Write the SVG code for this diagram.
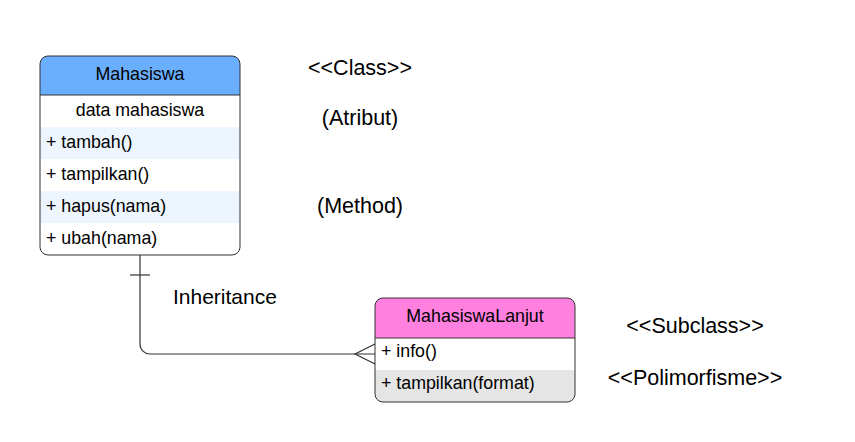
<svg xmlns="http://www.w3.org/2000/svg" width="855" height="442" viewBox="0 0 855 442">
<style>
text{font-family:"Liberation Sans",Arial,sans-serif;fill:#000}
.t{font-size:17.8px}
.c{text-anchor:middle}
.lab{font-size:21.5px;text-anchor:middle}
.box{fill:none;stroke:#333;stroke-width:1}
.con{fill:none;stroke:#333;stroke-width:1.2}
</style>
<rect width="855" height="442" fill="#fff"/>
<g id="Mahasiswa">
<path d="M40,95 V64 a8,8 0 0 1 8,-8 H232 a8,8 0 0 1 8,8 V95 Z" fill="#6aaefe"/>
<rect x="40" y="127" width="200" height="32" fill="#edf5ff"/>
<rect x="40" y="191" width="200" height="32" fill="#edf5ff"/>
<rect x="40" y="56" width="200" height="199" rx="8" class="box"/>
<line x1="40" y1="95" x2="240" y2="95" stroke="#333"/>
<text x="140" y="80" class="t c">Mahasiswa</text>
<text x="140" y="116" class="t c">data mahasiswa</text>
<text x="46" y="148" class="t">+ tambah()</text>
<text x="46" y="180" class="t">+ tampilkan()</text>
<text x="46" y="212" class="t">+ hapus(nama)</text>
<text x="46" y="244" class="t">+ ubah(nama)</text>
</g>
<g id="MahasiswaLanjut">
<path d="M375,338 V306 a8,8 0 0 1 8,-8 H567 a8,8 0 0 1 8,8 V338 Z" fill="#ff80df"/>
<path d="M375,370 H575 V394 a8,8 0 0 1 -8,8 H383 a8,8 0 0 1 -8,-8 Z" fill="#e5e5e5"/>
<rect x="375" y="298" width="200" height="104" rx="8" class="box"/>
<line x1="375" y1="338" x2="575" y2="338" stroke="#333"/>
<text x="475" y="322" class="t c">MahasiswaLanjut</text>
<text x="381" y="357" class="t">+ info()</text>
<text x="381" y="389" class="t">+ tampilkan(format)</text>
</g>
<g id="connectors">
<path d="M140,255 V344 a10,10 0 0 0 10,10 H375" class="con"/>
<line x1="130" y1="275" x2="150" y2="275" class="con"/>
<path d="M375,344 L355,354 L375,364" class="con"/>
</g>
<g id="labels">
<text x="360" y="75" class="lab">&lt;&lt;Class&gt;&gt;</text>
<text x="360" y="125" class="lab">(Atribut)</text>
<text x="360" y="213" class="lab">(Method)</text>
<text x="173" y="304" style="font-size:21px">Inheritance</text>
<text x="695" y="333" class="lab">&lt;&lt;Subclass&gt;&gt;</text>
<text x="695" y="385" class="lab">&lt;&lt;Polimorfisme&gt;&gt;</text>
</g>
</svg>
